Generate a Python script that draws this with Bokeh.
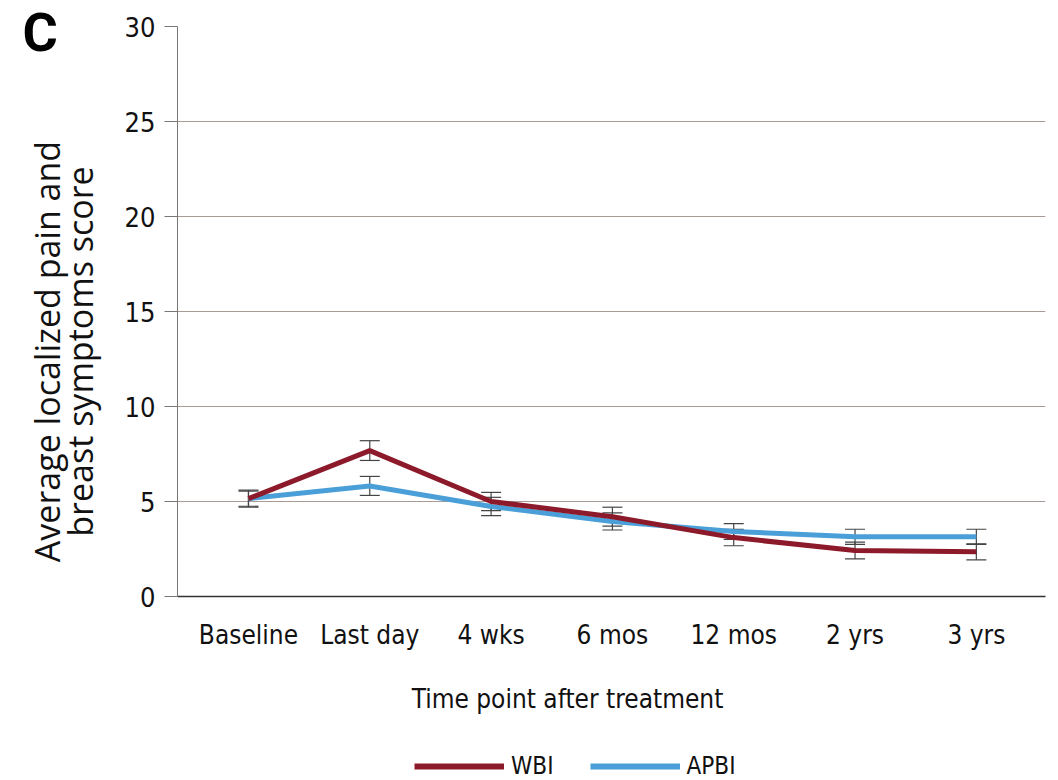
import math
from bokeh.plotting import figure
from bokeh.layouts import row, column
from bokeh.models import (ColumnDataSource, Range1d, FixedTicker, Whisker, TeeHead,
                          Legend, LegendItem, Label)
from bokeh.embed import file_html
from bokeh.resources import INLINE

categories = ["Baseline", "Last day", "4 wks", "6 mos", "12 mos", "2 yrs", "3 yrs"]
wbi = [5.15, 7.68, 5.0, 4.2, 3.1, 2.42, 2.35]
wbi_err = [0.45, 0.52, 0.48, 0.5, 0.43, 0.44, 0.42]
apbi = [5.15, 5.82, 4.74, 3.95, 3.42, 3.14, 3.14]
apbi_err = [0.4, 0.5, 0.48, 0.45, 0.42, 0.4, 0.4]
y_ticks = [0, 5, 10, 15, 20, 25, 30]
series_names = ["WBI", "APBI"]

WBI_C = "#8c1a2a"
APBI_C = "#4b9fd8"
COND = "DejaVu Sans Condensed, DejaVu Sans, sans-serif"

xs = list(range(len(categories)))

# ---------- left strip: panel letter and y-axis title ----------
left = figure(width=110, height=780, output_backend="svg", toolbar_location=None,
              x_range=Range1d(0, 1), y_range=Range1d(0, 1),
              x_axis_type=None, y_axis_type=None, min_border=0)
left.outline_line_color = None
left.add_layout(Label(x=22, y=748, x_units="screen", y_units="screen", text="C",
                      text_font="Roboto", text_font_style="bold",
                      text_font_size="54px", text_color="#000000",
                      text_align="left", text_baseline="middle"))
left.add_layout(Label(x=46, y=429, x_units="screen", y_units="screen",
                      text="Average localized pain and", angle=math.pi / 2,
                      text_font="Open Sans", text_font_size="34px",
                      text_color="#111111", text_align="center", text_baseline="middle"))
left.add_layout(Label(x=79, y=429, x_units="screen", y_units="screen",
                      text="breast symptoms score", angle=math.pi / 2,
                      text_font="Open Sans", text_font_size="34px",
                      text_color="#111111", text_align="center", text_baseline="middle"))

# ---------- main chart ----------
p = figure(width=948, height=660, output_backend="svg", toolbar_location=None,
           x_range=Range1d(-0.585, 6.57), y_range=Range1d(0, 30))
p.min_border_left = 67
p.min_border_right = 13
p.min_border_top = 26
p.min_border_bottom = 64
p.outline_line_color = None

p.xgrid.grid_line_color = None
p.ygrid.grid_line_color = "#a89a95"
p.ygrid.grid_line_width = 1.2
p.ygrid.ticker = FixedTicker(ticks=y_ticks)

p.yaxis.ticker = FixedTicker(ticks=y_ticks)
p.yaxis.axis_line_color = "#777777"
p.yaxis.major_tick_line_color = "#777777"
p.yaxis.major_tick_out = 13
p.yaxis.major_tick_in = 0
p.yaxis.minor_tick_line_color = None
p.yaxis.major_label_text_font = COND
p.yaxis.major_label_text_font_size = "27px"
p.yaxis.major_label_text_color = "#111111"
p.yaxis.major_label_standoff = 9

p.xaxis.ticker = FixedTicker(ticks=xs)
p.xaxis.major_label_overrides = {i: c for i, c in enumerate(categories)}
p.xaxis.axis_line_color = "#333333"
p.xaxis.axis_line_width = 1.5
p.xaxis.major_tick_line_color = None
p.xaxis.minor_tick_line_color = None
p.xaxis.major_label_text_font = COND
p.xaxis.major_label_text_font_size = "26px"
p.xaxis.major_label_text_color = "#111111"
p.xaxis.major_label_standoff = 17

src = ColumnDataSource(dict(
    x=xs, wbi=wbi, apbi=apbi,
    wbi_lo=[v - e for v, e in zip(wbi, wbi_err)],
    wbi_hi=[v + e for v, e in zip(wbi, wbi_err)],
    apbi_lo=[v - e for v, e in zip(apbi, apbi_err)],
    apbi_hi=[v + e for v, e in zip(apbi, apbi_err)],
))

p.line("x", "apbi", source=src, line_color=APBI_C, line_width=5)
p.line("x", "wbi", source=src, line_color=WBI_C, line_width=5)

for lo, hi in (("wbi_lo", "wbi_hi"), ("apbi_lo", "apbi_hi")):
    w = Whisker(source=src, base="x", lower=lo, upper=hi, line_color="#444444",
                line_width=1.2,
                upper_head=TeeHead(size=20, line_color="#444444", line_width=1.2),
                lower_head=TeeHead(size=20, line_color="#444444", line_width=1.2))
    p.add_layout(w)

# ---------- bottom strip: x-axis title and legend ----------
lg = figure(width=948, height=120, output_backend="svg", toolbar_location=None,
            x_range=Range1d(-0.585, 6.57), y_range=Range1d(100, 101),
            x_axis_type=None, y_axis_type=None, min_border=0)
lg.outline_line_color = None
lg.add_layout(Label(x=390, y=82, x_units="screen", y_units="screen",
                    text="Time point after treatment",
                    text_font=COND, text_font_size="26px", text_color="#111111",
                    text_align="center", text_baseline="middle"))
# legend keys reuse the series (they fall outside this strip's range, only the keys show)
k_wbi = lg.line("x", "wbi", source=src, line_color=WBI_C, line_width=6)
k_apbi = lg.line("x", "apbi", source=src, line_color=APBI_C, line_width=6)
legend = Legend(items=[LegendItem(label=series_names[0], renderers=[k_wbi]),
                       LegendItem(label=series_names[1], renderers=[k_apbi])],
                orientation="horizontal", location=(237, 0),
                glyph_width=90, glyph_height=28, label_height=28,
                label_text_font=COND, label_text_font_size="24px",
                label_text_color="#111111", label_standoff=7, spacing=36,
                padding=0, margin=0, border_line_color=None,
                background_fill_alpha=0)
lg.add_layout(legend, "center")

layout = row(left, column(p, lg, spacing=0), spacing=0)
open("out.html", "w").write(file_html(layout, INLINE))
